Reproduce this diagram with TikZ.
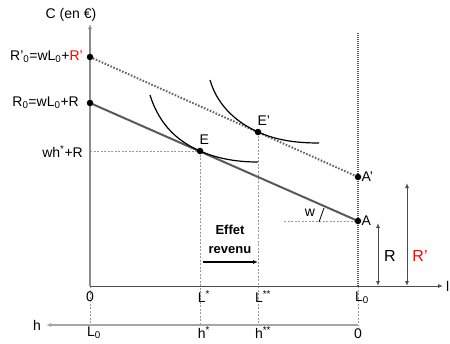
\documentclass[tikz,border=0pt]{standalone}
\usepackage{fontspec}
\setmainfont{Liberation Sans}
\usetikzlibrary{arrows.meta, positioning}

\begin{document}
\begin{tikzpicture}[x=1pt, y=-1pt,
  txt/.style={font=\fontsize{14}{16}\selectfont, inner sep=1pt},
  big/.style={font=\fontsize{16}{18}\selectfont, inner sep=1pt},
  dot/.style={circle, fill=black, inner sep=0pt, minimum size=6.5pt},
  tip/.style={-{Latex[length=5pt,width=4pt]}},
  yaxis/.style={tip, line width=1.5pt, black!45},
  xaxis/.style={tip, line width=1pt, black!70},
  haxis/.style={tip, line width=1.6pt, black!35},
  guide/.style={black!40, line width=0.5pt, dash pattern=on 2pt off 1.5pt},
  budget/.style={line width=2pt, black!65},
  newbudget/.style={line width=2pt, black!60, dash pattern=on 1.6pt off 1.6pt},
  border/.style={line width=1.2pt, black!65, dash pattern=on 1pt off 1pt},
  icurve/.style={line width=1.2pt, black},
  dim/.style={line width=1pt, black!70, {Latex[length=5pt,width=4pt]}-{Latex[length=5pt,width=4pt]}},
  node distance=2pt
]
\useasboundingbox (0,0) rectangle (450,343);

\coordinate (O) at (90,286);
\coordinate (ytop) at (90,24);
\coordinate (xend) at (443,286);
\coordinate (Lz) at (358,286);
\coordinate (Lztop) at (358,33);
\coordinate (hO) at (358,325);
\coordinate (hL) at (90,325);
\coordinate (hend) at (46,325);
\coordinate (R0) at (90,103);
\coordinate (R0p) at (90,57);
\coordinate (A) at (358,221);
\coordinate (Ap) at (358,177);
\coordinate (E) at (200,151);
\coordinate (Ep) at (258,132);
\coordinate (hs) at (200,325);
\coordinate (hss) at (258,325);
\coordinate (wh) at (90,151);
\coordinate (Aleft) at (284,221);
\coordinate (Rbot) at (378,286);
\coordinate (Rtop) at (378,223);
\coordinate (Rpbot) at (407,286);
\coordinate (Rptop) at (407,183);
\coordinate (effA) at (203,262);
\coordinate (effB) at (258,262);
\coordinate (wa) at (319,222);
\coordinate (wb) at (324,208);

\draw[guide] (wh) -- (E);
\draw[guide] (E) -- (hs);
\draw[guide] (Ep) -- (hss);
\draw[guide] (O) -- (hL);
\draw[guide] (Lz) -- (hO);
\draw[guide] (Aleft) -- (A);

\draw[yaxis] (O) -- (ytop);
\draw[xaxis] (O) -- (xend);
\draw[haxis] (hO) -- (hend);
\draw[border] (Lztop) -- (Lz);

\draw[budget] (R0) -- (A);
\draw[newbudget] (R0p) -- (Ap);

\draw[icurve] (150,95) .. controls (160,127) and (180,142.3) .. (E)
  .. controls (220,159.7) and (240,162) .. (258,162);
\draw[icurve] (210,80) .. controls (218,108) and (240,124) .. (Ep)
  .. controls (276,140) and (295,143) .. (319,143);

\draw[line width=0.8pt] (wa) -- (wb);
\draw[dim] (Rbot) -- (Rtop);
\draw[dim] (Rpbot) -- (Rptop);
\draw[tip, line width=1.2pt] (effA) -- (effB);

\node[dot] (R0dot) at (R0) {};
\node[dot] (R0pdot) at (R0p) {};
\node[dot] (Adot) at (A) {};
\node[dot] (Apdot) at (Ap) {};
\node[dot] (Edot) at (E) {};
\node[dot] (Epdot) at (Ep) {};

\node[txt] (Clab) at (71,15) {C (en €)};
\node[txt, anchor=east] (R0plab) at (84,57) {R’\textsubscript{0}=wL\textsubscript{0}+\textcolor{red}{R’}};
\node[txt, anchor=east] (R0lab) at (80,103) {R\textsubscript{0}=wL\textsubscript{0}+R};
\node[txt, anchor=east] (whlab) at (84,152) {wh\textsuperscript{*}+R};
\node[txt, above right=3pt and -4pt of Edot] (Elab) {E};
\node[txt, above right=3pt and -4pt of Epdot] (Eplab) {E’};
\node[txt, right=-1pt of Adot] (Alab) {A};
\node[txt, right=-1pt of Apdot] (Aplab) {A’};
\node[txt] (wlab) at (310,213) {w};
\node[big] (Rlab) at (390,256) {R};
\node[big, text=red] (Rplab) at (420,256) {R’};
\node[txt, anchor=west] (llab) at (445,286) {l};
\node[font=\bfseries\fontsize{13}{19}\selectfont, align=center] (eff) at (230,239) {Effet\\revenu};

\node[txt] (x0) at (90,297) {0};
\node[txt] (xLs) at (204,297) {L\textsuperscript{*}};
\node[txt] (xLss) at (263,297) {L\textsuperscript{**}};
\node[txt] (xL0) at (362,298) {L\textsubscript{0}};
\node[txt] (hlab) at (37,325) {h};
\node[txt] (hL0) at (94,333) {L\textsubscript{0}};
\node[txt] (hhs) at (204,333) {h\textsuperscript{*}};
\node[txt] (hhss) at (263,333) {h\textsuperscript{**}};
\node[txt] (h0) at (358,334) {0};
\end{tikzpicture}
\end{document}
